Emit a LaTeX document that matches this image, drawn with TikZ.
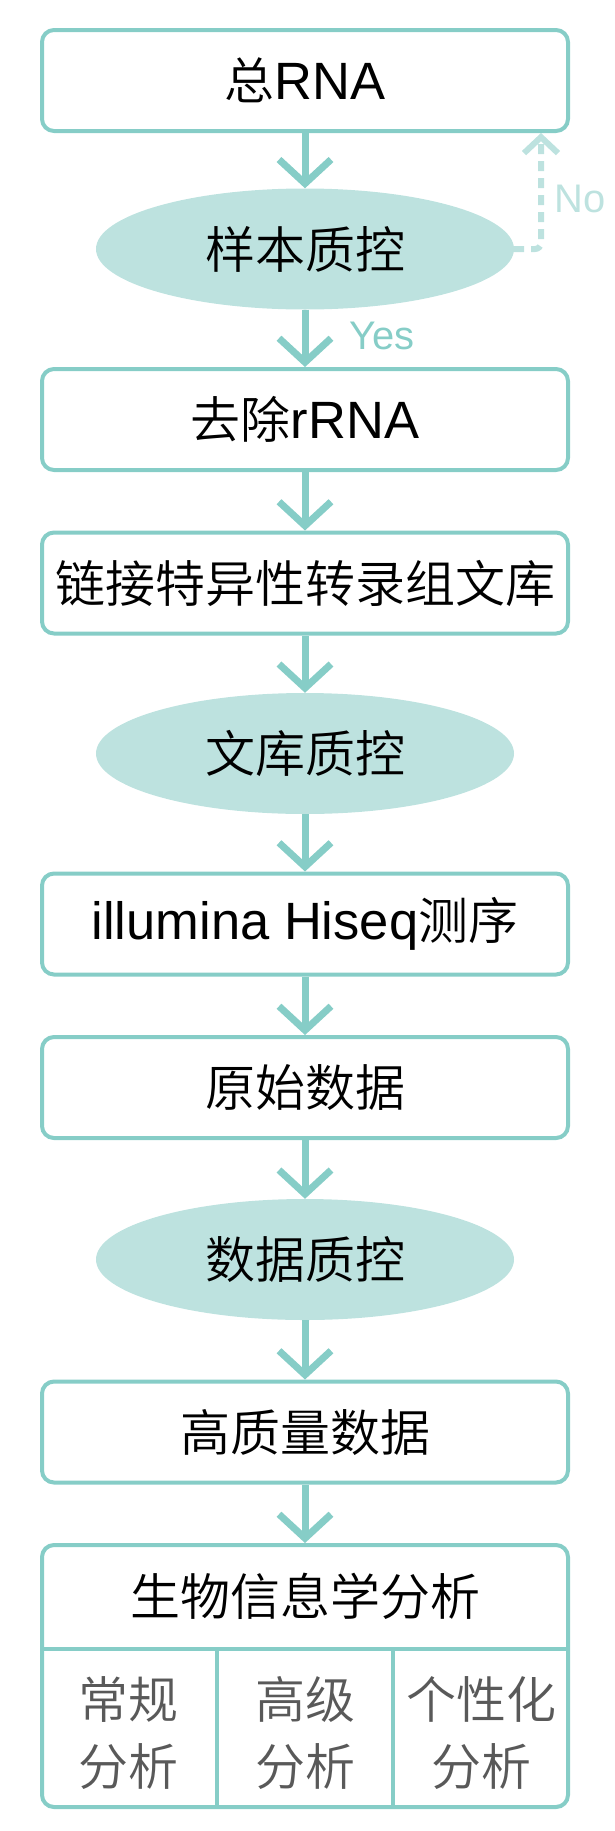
\documentclass[tikz,border=0pt]{standalone}
\usepackage{fontspec}
\setmainfont{Noto Sans CJK SC}[UprightFont=* DemiLight]
\newfontfamily\latinfont{Liberation Sans}[Scale=1.05]
\usetikzlibrary{arrows.meta,shapes.geometric}

\definecolor{flowline}{HTML}{86CDC7}
\definecolor{qcfill}{HTML}{BDE2DF}
\definecolor{celltext}{HTML}{595959}

\begin{document}
\begin{tikzpicture}[x=1pt,y=-1pt,
    stepbox/.style={draw=flowline, line width=4pt, rounded corners=12pt,
        minimum width=526pt, minimum height=101pt, inner sep=0pt,
        font=\fontsize{50pt}{60pt}\selectfont},
    qcnode/.style={ellipse, fill=qcfill, minimum width=418pt,
        minimum height=121pt, inner sep=0pt,
        font=\fontsize{50pt}{60pt}\selectfont},
    flow/.style={draw=flowline, line width=7pt,
        -{Straight Barb[length=24pt,width=52pt]}},
    noflow/.style={draw=qcfill, line width=6pt, dash pattern=on 10pt off 7pt,
        rounded corners=6pt, -{Straight Barb[length=16pt,width=34pt]}},
    cell/.style={align=center, text=celltext, inner sep=0pt,
        font=\fontsize{50pt}{67pt}\selectfont}
]
    % Fix the page size
    \useasboundingbox (0,0) rectangle (614,1831);

    % Steps of the pipeline
    \node[stepbox] (total) at (305,80.5) {总{\latinfont RNA}};
    \node[qcnode] (sampleqc) at (305,249) {样本质控};
    \node[stepbox] (rrna) at (305,419.5) {去除{\latinfont rRNA}};
    \node[stepbox] (library) at (305,583) {链接特异性转录组文库};
    \node[qcnode] (libqc) at (305,753.5) {文库质控};
    \node[stepbox] (seq) at (305,924) {{\latinfont illumina Hiseq}测序};
    \node[stepbox] (raw) at (305,1087.5) {原始数据};
    \node[qcnode] (dataqc) at (305,1259.5) {数据质控};
    \node[stepbox] (clean) at (305,1432) {高质量数据};

    % Bioinformatics box with three cells
    \node[stepbox, minimum height=262pt] (bio) at (305,1676) {};
    \node[stepbox, draw=none] (biotitle) at (305,1596) {生物信息学分析};
    \coordinate (splitl) at (42,1649);
    \coordinate (splitr) at (568,1649);
    \draw[flowline, line width=4pt] (splitl) -- (splitr);
    \draw[flowline, line width=4pt] (216.7,1649) -- (216.7,1807);
    \draw[flowline, line width=4pt] (393.3,1649) -- (393.3,1807);
    \node[cell] (routine) at (128.3,1733) {常规\\分析};
    \node[cell] (advanced) at (305,1733) {高级\\分析};
    \node[cell] (custom) at (481.7,1733) {个性化\\分析};

    % Arrows between steps
    \draw[flow] (total) -- (sampleqc);
    \draw[flow] (sampleqc) -- (rrna);
    \draw[flow] (rrna) -- (library);
    \draw[flow] (library) -- (libqc);
    \draw[flow] (libqc) -- (seq);
    \draw[flow] (seq) -- (raw);
    \draw[flow] (raw) -- (dataqc);
    \draw[flow] (dataqc) -- (clean);
    \draw[flow] (clean) -- (bio);

    % Failed sample check goes back
    \draw[noflow] (sampleqc.east) -| ([xshift=-29pt]total.south east);

    % Yes / No labels
    \node[anchor=west, text=qcfill, font=\latinfont\fontsize{38pt}{46pt}\selectfont] (nolabel) at (551,199) {No};
    \node[anchor=west, text=flowline, font=\latinfont\fontsize{38pt}{46pt}\selectfont] (yeslabel) at (346,336) {Yes};
\end{tikzpicture}
\end{document}
